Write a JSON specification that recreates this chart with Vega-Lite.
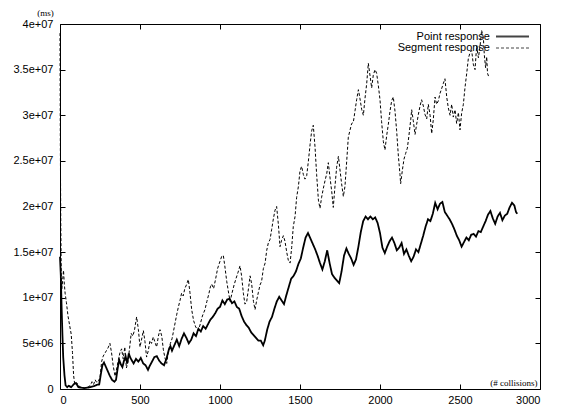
{
"$schema": "https://vega.github.io/schema/vega-lite/v6.json",
"width": 480, "height": 365,
"autosize": {"type": "none"},
"padding": {"left": 60, "top": 24, "right": 25, "bottom": 19},
"background": "white",
"config": {"view": {"stroke": "black", "strokeWidth": 1}, "font": "Liberation Sans",
 "axis": {"zindex": 1, "domain": false, "ticks": false, "grid": true, "gridColor": "#000000", "gridOpacity": 1, "gridWidth": 1, "labelColor": "black", "labelFont": "Liberation Sans", "labelFontSize": 11}},
"data": {"values": [
{"x":0,"y":14.5e6,"s":"Point response"},{"x":5,"y":12.5e6,"s":"Point response"},{"x":10,"y":9e6,"s":"Point response"},{"x":15,"y":6e6,"s":"Point response"},{"x":20,"y":3.5e6,"s":"Point response"},{"x":28,"y":1.5e6,"s":"Point response"},{"x":35,"y":0.4e6,"s":"Point response"},{"x":45,"y":0.2e6,"s":"Point response"},{"x":55,"y":0.35e6,"s":"Point response"},{"x":70,"y":0.2e6,"s":"Point response"},{"x":85,"y":0.5e6,"s":"Point response"},{"x":95,"y":0.65e6,"s":"Point response"},{"x":105,"y":0.5e6,"s":"Point response"},{"x":115,"y":0.2e6,"s":"Point response"},{"x":130,"y":0.15e6,"s":"Point response"},{"x":150,"y":0.1e6,"s":"Point response"},{"x":170,"y":0.15e6,"s":"Point response"},{"x":190,"y":0.2e6,"s":"Point response"},{"x":210,"y":0.3e6,"s":"Point response"},{"x":230,"y":0.45e6,"s":"Point response"},{"x":245,"y":0.5e6,"s":"Point response"},{"x":255,"y":1.6e6,"s":"Point response"},{"x":265,"y":2.6e6,"s":"Point response"},{"x":275,"y":2.9e6,"s":"Point response"},{"x":285,"y":2.5e6,"s":"Point response"},{"x":295,"y":2.1e6,"s":"Point response"},{"x":310,"y":1.5e6,"s":"Point response"},{"x":325,"y":1.0e6,"s":"Point response"},{"x":340,"y":0.8e6,"s":"Point response"},{"x":350,"y":1.0e6,"s":"Point response"},{"x":360,"y":2.2e6,"s":"Point response"},{"x":370,"y":3.2e6,"s":"Point response"},{"x":380,"y":2.7e6,"s":"Point response"},{"x":390,"y":2.4e6,"s":"Point response"},{"x":400,"y":3.1e6,"s":"Point response"},{"x":410,"y":3.6e6,"s":"Point response"},{"x":420,"y":2.8e6,"s":"Point response"},{"x":430,"y":3.9e6,"s":"Point response"},{"x":440,"y":3.4e6,"s":"Point response"},{"x":450,"y":3.1e6,"s":"Point response"},{"x":460,"y":2.8e6,"s":"Point response"},{"x":475,"y":3.3e6,"s":"Point response"},{"x":490,"y":3.0e6,"s":"Point response"},{"x":505,"y":3.4e6,"s":"Point response"},{"x":520,"y":2.8e6,"s":"Point response"},{"x":535,"y":2.6e6,"s":"Point response"},{"x":550,"y":2.1e6,"s":"Point response"},{"x":560,"y":2.5e6,"s":"Point response"},{"x":575,"y":3.0e6,"s":"Point response"},{"x":590,"y":3.5e6,"s":"Point response"},{"x":605,"y":3.6e6,"s":"Point response"},{"x":620,"y":3.1e6,"s":"Point response"},{"x":635,"y":2.8e6,"s":"Point response"},{"x":650,"y":2.6e6,"s":"Point response"},{"x":665,"y":3.3e6,"s":"Point response"},{"x":680,"y":4.3e6,"s":"Point response"},{"x":690,"y":4.7e6,"s":"Point response"},{"x":700,"y":4.2e6,"s":"Point response"},{"x":715,"y":4.8e6,"s":"Point response"},{"x":730,"y":5.4e6,"s":"Point response"},{"x":745,"y":4.7e6,"s":"Point response"},{"x":760,"y":5.5e6,"s":"Point response"},{"x":775,"y":6.1e6,"s":"Point response"},{"x":790,"y":5.6e6,"s":"Point response"},{"x":805,"y":5.0e6,"s":"Point response"},{"x":820,"y":5.4e6,"s":"Point response"},{"x":835,"y":6.1e6,"s":"Point response"},{"x":850,"y":5.8e6,"s":"Point response"},{"x":865,"y":6.6e6,"s":"Point response"},{"x":880,"y":6.3e6,"s":"Point response"},{"x":895,"y":6.9e6,"s":"Point response"},{"x":910,"y":6.6e6,"s":"Point response"},{"x":925,"y":7.1e6,"s":"Point response"},{"x":940,"y":7.6e6,"s":"Point response"},{"x":955,"y":7.9e6,"s":"Point response"},{"x":970,"y":8.3e6,"s":"Point response"},{"x":985,"y":8.8e6,"s":"Point response"},{"x":1000,"y":9.0e6,"s":"Point response"},{"x":1015,"y":9.7e6,"s":"Point response"},{"x":1030,"y":9.3e6,"s":"Point response"},{"x":1045,"y":9.8e6,"s":"Point response"},{"x":1060,"y":9.9e6,"s":"Point response"},{"x":1075,"y":9.4e6,"s":"Point response"},{"x":1090,"y":9.6e6,"s":"Point response"},{"x":1105,"y":9.0e6,"s":"Point response"},{"x":1120,"y":8.8e6,"s":"Point response"},{"x":1135,"y":8.0e6,"s":"Point response"},{"x":1150,"y":7.4e6,"s":"Point response"},{"x":1165,"y":7.0e6,"s":"Point response"},{"x":1180,"y":6.7e6,"s":"Point response"},{"x":1195,"y":6.2e6,"s":"Point response"},{"x":1210,"y":5.9e6,"s":"Point response"},{"x":1225,"y":5.6e6,"s":"Point response"},{"x":1240,"y":5.3e6,"s":"Point response"},{"x":1255,"y":5.3e6,"s":"Point response"},{"x":1270,"y":4.8e6,"s":"Point response"},{"x":1280,"y":5.3e6,"s":"Point response"},{"x":1295,"y":6.5e6,"s":"Point response"},{"x":1310,"y":7.4e6,"s":"Point response"},{"x":1325,"y":7.9e6,"s":"Point response"},{"x":1340,"y":8.8e6,"s":"Point response"},{"x":1355,"y":9.6e6,"s":"Point response"},{"x":1370,"y":10.1e6,"s":"Point response"},{"x":1385,"y":9.7e6,"s":"Point response"},{"x":1400,"y":9.3e6,"s":"Point response"},{"x":1415,"y":10.3e6,"s":"Point response"},{"x":1430,"y":11.2e6,"s":"Point response"},{"x":1445,"y":12.1e6,"s":"Point response"},{"x":1460,"y":12.4e6,"s":"Point response"},{"x":1475,"y":12.9e6,"s":"Point response"},{"x":1490,"y":13.7e6,"s":"Point response"},{"x":1505,"y":14.3e6,"s":"Point response"},{"x":1520,"y":15.5e6,"s":"Point response"},{"x":1535,"y":16.6e6,"s":"Point response"},{"x":1550,"y":17.1e6,"s":"Point response"},{"x":1565,"y":16.5e6,"s":"Point response"},{"x":1580,"y":15.9e6,"s":"Point response"},{"x":1595,"y":15.3e6,"s":"Point response"},{"x":1610,"y":14.6e6,"s":"Point response"},{"x":1625,"y":13.8e6,"s":"Point response"},{"x":1640,"y":13.1e6,"s":"Point response"},{"x":1655,"y":14.0e6,"s":"Point response"},{"x":1670,"y":15.2e6,"s":"Point response"},{"x":1685,"y":13.8e6,"s":"Point response"},{"x":1700,"y":12.6e6,"s":"Point response"},{"x":1715,"y":12.2e6,"s":"Point response"},{"x":1730,"y":11.9e6,"s":"Point response"},{"x":1745,"y":11.6e6,"s":"Point response"},{"x":1760,"y":12.9e6,"s":"Point response"},{"x":1775,"y":14.6e6,"s":"Point response"},{"x":1790,"y":15.4e6,"s":"Point response"},{"x":1805,"y":14.8e6,"s":"Point response"},{"x":1820,"y":14.3e6,"s":"Point response"},{"x":1835,"y":13.6e6,"s":"Point response"},{"x":1850,"y":14.2e6,"s":"Point response"},{"x":1865,"y":15.6e6,"s":"Point response"},{"x":1880,"y":17.2e6,"s":"Point response"},{"x":1895,"y":18.4e6,"s":"Point response"},{"x":1910,"y":18.9e6,"s":"Point response"},{"x":1925,"y":18.6e6,"s":"Point response"},{"x":1940,"y":18.9e6,"s":"Point response"},{"x":1955,"y":18.6e6,"s":"Point response"},{"x":1970,"y":18.8e6,"s":"Point response"},{"x":1985,"y":18.2e6,"s":"Point response"},{"x":2000,"y":17.1e6,"s":"Point response"},{"x":2015,"y":15.5e6,"s":"Point response"},{"x":2030,"y":14.9e6,"s":"Point response"},{"x":2045,"y":15.6e6,"s":"Point response"},{"x":2060,"y":16.2e6,"s":"Point response"},{"x":2075,"y":16.6e6,"s":"Point response"},{"x":2090,"y":16.0e6,"s":"Point response"},{"x":2105,"y":15.2e6,"s":"Point response"},{"x":2120,"y":15.5e6,"s":"Point response"},{"x":2135,"y":16.0e6,"s":"Point response"},{"x":2150,"y":14.8e6,"s":"Point response"},{"x":2165,"y":15.3e6,"s":"Point response"},{"x":2180,"y":14.6e6,"s":"Point response"},{"x":2195,"y":14.0e6,"s":"Point response"},{"x":2210,"y":14.5e6,"s":"Point response"},{"x":2225,"y":15.3e6,"s":"Point response"},{"x":2240,"y":15.0e6,"s":"Point response"},{"x":2255,"y":15.9e6,"s":"Point response"},{"x":2270,"y":16.8e6,"s":"Point response"},{"x":2285,"y":17.8e6,"s":"Point response"},{"x":2300,"y":18.6e6,"s":"Point response"},{"x":2315,"y":18.4e6,"s":"Point response"},{"x":2330,"y":19.2e6,"s":"Point response"},{"x":2345,"y":20.4e6,"s":"Point response"},{"x":2360,"y":19.7e6,"s":"Point response"},{"x":2375,"y":20.3e6,"s":"Point response"},{"x":2390,"y":20.5e6,"s":"Point response"},{"x":2405,"y":19.4e6,"s":"Point response"},{"x":2420,"y":19.0e6,"s":"Point response"},{"x":2435,"y":18.6e6,"s":"Point response"},{"x":2450,"y":18.1e6,"s":"Point response"},{"x":2465,"y":17.5e6,"s":"Point response"},{"x":2480,"y":16.8e6,"s":"Point response"},{"x":2495,"y":16.3e6,"s":"Point response"},{"x":2510,"y":15.6e6,"s":"Point response"},{"x":2525,"y":16.1e6,"s":"Point response"},{"x":2540,"y":16.6e6,"s":"Point response"},{"x":2555,"y":16.3e6,"s":"Point response"},{"x":2570,"y":16.9e6,"s":"Point response"},{"x":2585,"y":17.0e6,"s":"Point response"},{"x":2600,"y":16.7e6,"s":"Point response"},{"x":2615,"y":17.3e6,"s":"Point response"},{"x":2630,"y":17.2e6,"s":"Point response"},{"x":2645,"y":17.8e6,"s":"Point response"},{"x":2660,"y":18.4e6,"s":"Point response"},{"x":2675,"y":19.1e6,"s":"Point response"},{"x":2690,"y":19.5e6,"s":"Point response"},{"x":2705,"y":18.7e6,"s":"Point response"},{"x":2720,"y":18.1e6,"s":"Point response"},{"x":2735,"y":18.9e6,"s":"Point response"},{"x":2750,"y":19.3e6,"s":"Point response"},{"x":2765,"y":18.5e6,"s":"Point response"},{"x":2780,"y":19.0e6,"s":"Point response"},{"x":2795,"y":19.2e6,"s":"Point response"},{"x":2810,"y":19.9e6,"s":"Point response"},{"x":2825,"y":20.4e6,"s":"Point response"},{"x":2840,"y":20.1e6,"s":"Point response"},{"x":2850,"y":19.4e6,"s":"Point response"},{"x":2858,"y":19.2e6,"s":"Point response"},
{"x":0,"y":39e6,"s":"Segment response"},{"x":2,"y":27e6,"s":"Segment response"},{"x":5,"y":18e6,"s":"Segment response"},{"x":8,"y":12.5e6,"s":"Segment response"},{"x":12,"y":11e6,"s":"Segment response"},{"x":17,"y":12e6,"s":"Segment response"},{"x":22,"y":13e6,"s":"Segment response"},{"x":27,"y":11.5e6,"s":"Segment response"},{"x":32,"y":10.5e6,"s":"Segment response"},{"x":40,"y":9.5e6,"s":"Segment response"},{"x":50,"y":8e6,"s":"Segment response"},{"x":60,"y":7e6,"s":"Segment response"},{"x":70,"y":6e6,"s":"Segment response"},{"x":78,"y":4e6,"s":"Segment response"},{"x":85,"y":1.5e6,"s":"Segment response"},{"x":92,"y":0.5e6,"s":"Segment response"},{"x":100,"y":0.7e6,"s":"Segment response"},{"x":110,"y":0.6e6,"s":"Segment response"},{"x":120,"y":0.3e6,"s":"Segment response"},{"x":135,"y":0.15e6,"s":"Segment response"},{"x":155,"y":0.1e6,"s":"Segment response"},{"x":175,"y":0.2e6,"s":"Segment response"},{"x":190,"y":0.4e6,"s":"Segment response"},{"x":200,"y":0.8e6,"s":"Segment response"},{"x":210,"y":0.5e6,"s":"Segment response"},{"x":220,"y":1.0e6,"s":"Segment response"},{"x":230,"y":0.7e6,"s":"Segment response"},{"x":240,"y":0.9e6,"s":"Segment response"},{"x":250,"y":1.2e6,"s":"Segment response"},{"x":260,"y":3.0e6,"s":"Segment response"},{"x":270,"y":3.6e6,"s":"Segment response"},{"x":280,"y":3.9e6,"s":"Segment response"},{"x":290,"y":4.2e6,"s":"Segment response"},{"x":300,"y":4.5e6,"s":"Segment response"},{"x":312,"y":5.0e6,"s":"Segment response"},{"x":322,"y":4.0e6,"s":"Segment response"},{"x":332,"y":2.6e6,"s":"Segment response"},{"x":344,"y":1.4e6,"s":"Segment response"},{"x":355,"y":2.3e6,"s":"Segment response"},{"x":365,"y":3.2e6,"s":"Segment response"},{"x":375,"y":4.0e6,"s":"Segment response"},{"x":385,"y":4.4e6,"s":"Segment response"},{"x":395,"y":3.3e6,"s":"Segment response"},{"x":405,"y":4.6e6,"s":"Segment response"},{"x":415,"y":2.3e6,"s":"Segment response"},{"x":425,"y":3.0e6,"s":"Segment response"},{"x":435,"y":4.5e6,"s":"Segment response"},{"x":445,"y":6.1e6,"s":"Segment response"},{"x":455,"y":5.8e6,"s":"Segment response"},{"x":465,"y":6.4e6,"s":"Segment response"},{"x":479,"y":7.9e6,"s":"Segment response"},{"x":490,"y":6.5e6,"s":"Segment response"},{"x":500,"y":4.6e6,"s":"Segment response"},{"x":512,"y":5.6e6,"s":"Segment response"},{"x":521,"y":6.4e6,"s":"Segment response"},{"x":531,"y":5.2e6,"s":"Segment response"},{"x":541,"y":3.5e6,"s":"Segment response"},{"x":552,"y":4.2e6,"s":"Segment response"},{"x":562,"y":5.3e6,"s":"Segment response"},{"x":572,"y":5.0e6,"s":"Segment response"},{"x":583,"y":5.7e6,"s":"Segment response"},{"x":594,"y":5.1e6,"s":"Segment response"},{"x":604,"y":4.6e6,"s":"Segment response"},{"x":615,"y":5.8e6,"s":"Segment response"},{"x":625,"y":6.5e6,"s":"Segment response"},{"x":636,"y":5.8e6,"s":"Segment response"},{"x":646,"y":4.3e6,"s":"Segment response"},{"x":656,"y":3.4e6,"s":"Segment response"},{"x":667,"y":2.8e6,"s":"Segment response"},{"x":678,"y":4.2e6,"s":"Segment response"},{"x":690,"y":5.0e6,"s":"Segment response"},{"x":700,"y":5.5e6,"s":"Segment response"},{"x":708,"y":6.2e6,"s":"Segment response"},{"x":720,"y":7.3e6,"s":"Segment response"},{"x":730,"y":8.2e6,"s":"Segment response"},{"x":740,"y":9.0e6,"s":"Segment response"},{"x":750,"y":9.7e6,"s":"Segment response"},{"x":760,"y":10.5e6,"s":"Segment response"},{"x":770,"y":10.2e6,"s":"Segment response"},{"x":780,"y":11.0e6,"s":"Segment response"},{"x":790,"y":11.4e6,"s":"Segment response"},{"x":802,"y":12.0e6,"s":"Segment response"},{"x":812,"y":10.6e6,"s":"Segment response"},{"x":823,"y":8.7e6,"s":"Segment response"},{"x":835,"y":7.5e6,"s":"Segment response"},{"x":848,"y":6.8e6,"s":"Segment response"},{"x":865,"y":6.4e6,"s":"Segment response"},{"x":878,"y":7.2e6,"s":"Segment response"},{"x":890,"y":8.0e6,"s":"Segment response"},{"x":906,"y":8.7e6,"s":"Segment response"},{"x":918,"y":9.6e6,"s":"Segment response"},{"x":930,"y":10.4e6,"s":"Segment response"},{"x":940,"y":11.2e6,"s":"Segment response"},{"x":948,"y":11.5e6,"s":"Segment response"},{"x":960,"y":11.0e6,"s":"Segment response"},{"x":972,"y":12.0e6,"s":"Segment response"},{"x":985,"y":13.2e6,"s":"Segment response"},{"x":1000,"y":14.0e6,"s":"Segment response"},{"x":1012,"y":14.6e6,"s":"Segment response"},{"x":1021,"y":14.6e6,"s":"Segment response"},{"x":1030,"y":13.5e6,"s":"Segment response"},{"x":1042,"y":11.8e6,"s":"Segment response"},{"x":1055,"y":10.4e6,"s":"Segment response"},{"x":1063,"y":9.6e6,"s":"Segment response"},{"x":1075,"y":10.5e6,"s":"Segment response"},{"x":1088,"y":11.4e6,"s":"Segment response"},{"x":1100,"y":12.1e6,"s":"Segment response"},{"x":1113,"y":12.8e6,"s":"Segment response"},{"x":1125,"y":13.5e6,"s":"Segment response"},{"x":1135,"y":12.4e6,"s":"Segment response"},{"x":1146,"y":10.5e6,"s":"Segment response"},{"x":1156,"y":9.3e6,"s":"Segment response"},{"x":1167,"y":9.6e6,"s":"Segment response"},{"x":1178,"y":11.0e6,"s":"Segment response"},{"x":1188,"y":12.4e6,"s":"Segment response"},{"x":1198,"y":11.5e6,"s":"Segment response"},{"x":1209,"y":9.6e6,"s":"Segment response"},{"x":1219,"y":8.7e6,"s":"Segment response"},{"x":1230,"y":9.8e6,"s":"Segment response"},{"x":1240,"y":10.6e6,"s":"Segment response"},{"x":1250,"y":11.4e6,"s":"Segment response"},{"x":1260,"y":11.8e6,"s":"Segment response"},{"x":1271,"y":13.2e6,"s":"Segment response"},{"x":1282,"y":13.8e6,"s":"Segment response"},{"x":1292,"y":15.2e6,"s":"Segment response"},{"x":1302,"y":16.0e6,"s":"Segment response"},{"x":1313,"y":16.4e6,"s":"Segment response"},{"x":1323,"y":17.5e6,"s":"Segment response"},{"x":1334,"y":18.7e6,"s":"Segment response"},{"x":1344,"y":19.6e6,"s":"Segment response"},{"x":1354,"y":20.0e6,"s":"Segment response"},{"x":1365,"y":18.0e6,"s":"Segment response"},{"x":1375,"y":15.6e6,"s":"Segment response"},{"x":1385,"y":16.3e6,"s":"Segment response"},{"x":1396,"y":16.8e6,"s":"Segment response"},{"x":1406,"y":16.2e6,"s":"Segment response"},{"x":1417,"y":15.0e6,"s":"Segment response"},{"x":1427,"y":14.1e6,"s":"Segment response"},{"x":1438,"y":13.8e6,"s":"Segment response"},{"x":1448,"y":15.5e6,"s":"Segment response"},{"x":1458,"y":17.8e6,"s":"Segment response"},{"x":1469,"y":18.9e6,"s":"Segment response"},{"x":1479,"y":21.0e6,"s":"Segment response"},{"x":1490,"y":22.2e6,"s":"Segment response"},{"x":1500,"y":23.9e6,"s":"Segment response"},{"x":1510,"y":24.4e6,"s":"Segment response"},{"x":1521,"y":23.5e6,"s":"Segment response"},{"x":1531,"y":23.0e6,"s":"Segment response"},{"x":1542,"y":23.4e6,"s":"Segment response"},{"x":1552,"y":24.9e6,"s":"Segment response"},{"x":1563,"y":26.8e6,"s":"Segment response"},{"x":1573,"y":28.3e6,"s":"Segment response"},{"x":1583,"y":28.9e6,"s":"Segment response"},{"x":1594,"y":26.5e6,"s":"Segment response"},{"x":1604,"y":23.5e6,"s":"Segment response"},{"x":1615,"y":20.7e6,"s":"Segment response"},{"x":1625,"y":19.8e6,"s":"Segment response"},{"x":1635,"y":21.0e6,"s":"Segment response"},{"x":1646,"y":22.0e6,"s":"Segment response"},{"x":1656,"y":22.8e6,"s":"Segment response"},{"x":1667,"y":23.6e6,"s":"Segment response"},{"x":1677,"y":24.8e6,"s":"Segment response"},{"x":1688,"y":23.1e6,"s":"Segment response"},{"x":1698,"y":21.7e6,"s":"Segment response"},{"x":1708,"y":19.9e6,"s":"Segment response"},{"x":1719,"y":22.3e6,"s":"Segment response"},{"x":1729,"y":24.3e6,"s":"Segment response"},{"x":1740,"y":25.5e6,"s":"Segment response"},{"x":1750,"y":24.0e6,"s":"Segment response"},{"x":1760,"y":22.5e6,"s":"Segment response"},{"x":1771,"y":21.1e6,"s":"Segment response"},{"x":1781,"y":22.2e6,"s":"Segment response"},{"x":1792,"y":25.0e6,"s":"Segment response"},{"x":1802,"y":27.6e6,"s":"Segment response"},{"x":1813,"y":28.4e6,"s":"Segment response"},{"x":1823,"y":29.1e6,"s":"Segment response"},{"x":1833,"y":29.2e6,"s":"Segment response"},{"x":1844,"y":30.5e6,"s":"Segment response"},{"x":1854,"y":31.7e6,"s":"Segment response"},{"x":1865,"y":32.8e6,"s":"Segment response"},{"x":1875,"y":31.8e6,"s":"Segment response"},{"x":1886,"y":30.6e6,"s":"Segment response"},{"x":1896,"y":30.0e6,"s":"Segment response"},{"x":1906,"y":31.8e6,"s":"Segment response"},{"x":1917,"y":33.5e6,"s":"Segment response"},{"x":1927,"y":35.7e6,"s":"Segment response"},{"x":1938,"y":34.3e6,"s":"Segment response"},{"x":1948,"y":33.0e6,"s":"Segment response"},{"x":1958,"y":34.4e6,"s":"Segment response"},{"x":1969,"y":35.0e6,"s":"Segment response"},{"x":1979,"y":34.6e6,"s":"Segment response"},{"x":1990,"y":33.2e6,"s":"Segment response"},{"x":2000,"y":31.7e6,"s":"Segment response"},{"x":2010,"y":29.3e6,"s":"Segment response"},{"x":2021,"y":27.1e6,"s":"Segment response"},{"x":2031,"y":26.2e6,"s":"Segment response"},{"x":2042,"y":27.8e6,"s":"Segment response"},{"x":2052,"y":29.0e6,"s":"Segment response"},{"x":2063,"y":30.5e6,"s":"Segment response"},{"x":2073,"y":31.6e6,"s":"Segment response"},{"x":2083,"y":32.0e6,"s":"Segment response"},{"x":2094,"y":30.4e6,"s":"Segment response"},{"x":2104,"y":28.3e6,"s":"Segment response"},{"x":2115,"y":25.5e6,"s":"Segment response"},{"x":2125,"y":23.5e6,"s":"Segment response"},{"x":2129,"y":22.5e6,"s":"Segment response"},{"x":2140,"y":24.0e6,"s":"Segment response"},{"x":2150,"y":25.2e6,"s":"Segment response"},{"x":2160,"y":25.8e6,"s":"Segment response"},{"x":2171,"y":26.4e6,"s":"Segment response"},{"x":2181,"y":27.8e6,"s":"Segment response"},{"x":2192,"y":29.5e6,"s":"Segment response"},{"x":2198,"y":30.6e6,"s":"Segment response"},{"x":2208,"y":29.4e6,"s":"Segment response"},{"x":2219,"y":27.9e6,"s":"Segment response"},{"x":2229,"y":29.0e6,"s":"Segment response"},{"x":2240,"y":30.1e6,"s":"Segment response"},{"x":2250,"y":31.0e6,"s":"Segment response"},{"x":2260,"y":31.7e6,"s":"Segment response"},{"x":2271,"y":31.0e6,"s":"Segment response"},{"x":2281,"y":30.1e6,"s":"Segment response"},{"x":2292,"y":29.6e6,"s":"Segment response"},{"x":2302,"y":31.2e6,"s":"Segment response"},{"x":2313,"y":30.0e6,"s":"Segment response"},{"x":2323,"y":28.0e6,"s":"Segment response"},{"x":2333,"y":29.5e6,"s":"Segment response"},{"x":2344,"y":32.0e6,"s":"Segment response"},{"x":2354,"y":31.2e6,"s":"Segment response"},{"x":2365,"y":31.6e6,"s":"Segment response"},{"x":2375,"y":32.4e6,"s":"Segment response"},{"x":2385,"y":32.9e6,"s":"Segment response"},{"x":2396,"y":33.5e6,"s":"Segment response"},{"x":2406,"y":34.0e6,"s":"Segment response"},{"x":2417,"y":32.0e6,"s":"Segment response"},{"x":2427,"y":30.8e6,"s":"Segment response"},{"x":2438,"y":30.0e6,"s":"Segment response"},{"x":2448,"y":31.2e6,"s":"Segment response"},{"x":2458,"y":29.8e6,"s":"Segment response"},{"x":2469,"y":30.6e6,"s":"Segment response"},{"x":2479,"y":29.1e6,"s":"Segment response"},{"x":2490,"y":30.3e6,"s":"Segment response"},{"x":2500,"y":28.4e6,"s":"Segment response"},{"x":2510,"y":30.2e6,"s":"Segment response"},{"x":2521,"y":31.2e6,"s":"Segment response"},{"x":2531,"y":33.0e6,"s":"Segment response"},{"x":2542,"y":34.6e6,"s":"Segment response"},{"x":2552,"y":36.2e6,"s":"Segment response"},{"x":2563,"y":36.9e6,"s":"Segment response"},{"x":2573,"y":37.1e6,"s":"Segment response"},{"x":2583,"y":35.6e6,"s":"Segment response"},{"x":2594,"y":35.0e6,"s":"Segment response"},{"x":2604,"y":37.6e6,"s":"Segment response"},{"x":2615,"y":36.3e6,"s":"Segment response"},{"x":2625,"y":37.5e6,"s":"Segment response"},{"x":2635,"y":39.3e6,"s":"Segment response"},{"x":2646,"y":38.5e6,"s":"Segment response"},{"x":2652,"y":36.6e6,"s":"Segment response"},{"x":2660,"y":35.2e6,"s":"Segment response"},{"x":2667,"y":36.4e6,"s":"Segment response"},{"x":2672,"y":34.6e6,"s":"Segment response"},{"x":2680,"y":34.2e6,"s":"Segment response"}
]},
"mark": {"type": "line", "color": "black"},
"encoding": {
 "x": {"field": "x", "type": "quantitative", "scale": {"domain": [0, 3000], "nice": false, "zero": false},
  "axis": {"orient": "bottom", "values": [0,500,1000,1500,2000,2500,3000], "format": "d", "labelPadding": 5, "gridDash": [5, 355, 5, 400],
   "title": "(# collisions)", "titleFont": "Liberation Serif", "titleFontSize": 9, "titleFontWeight": "normal", "titleColor": "black", "titleX": 477, "titleY": -7, "titleAlign": "right", "titleBaseline": "middle", "titleAnchor": null}},
 "y": {"field": "y", "type": "quantitative", "scale": {"domain": [0, 40000000], "nice": false},
  "axis": {"orient": "left", "values": [0,5000000,10000000,15000000,20000000,25000000,30000000,35000000,40000000], "labelPadding": 7, "gridDash": [5, 470, 5, 500],
   "labelExpr": "datum.value == 0 ? '0' : (datum.value < 10000000 ? (datum.value/1000000) + 'e+06' : (datum.value/10000000) + 'e+07')",
   "title": "(ms)", "titleFont": "Liberation Serif", "titleFontSize": 9, "titleFontWeight": "normal", "titleColor": "black", "titleAngle": 0, "titleX": -15, "titleY": -12, "titleAlign": "center", "titleBaseline": "middle", "titleAnchor": null}},
 "detail": {"field": "s"},
 "strokeWidth": {"field": "s", "type": "nominal", "scale": {"domain": ["Point response", "Segment response"], "range": [1.8, 1]}, "legend": null},
 "strokeDash": {"field": "s", "type": "nominal",
  "scale": {"domain": ["Point response", "Segment response"], "range": [[1, 0], [3, 2]]},
  "legend": {"title": null, "orient": "none", "legendX": 446, "legendY": 6, "symbolType": "M-3,0H3", "symbolSize": 121, "symbolStrokeColor": "black", "symbolStrokeWidth": 1, "labelFont": "Liberation Sans", "labelFontSize": 11, "labelColor": "black", "labelAlign": "right", "labelOffset": -29, "rowPadding": -1, "padding": 0,
   "encode": {"symbols": {"update": {"strokeWidth": {"value": 1}, "stroke": {"value": "#444444"}}}}}}
}
}
